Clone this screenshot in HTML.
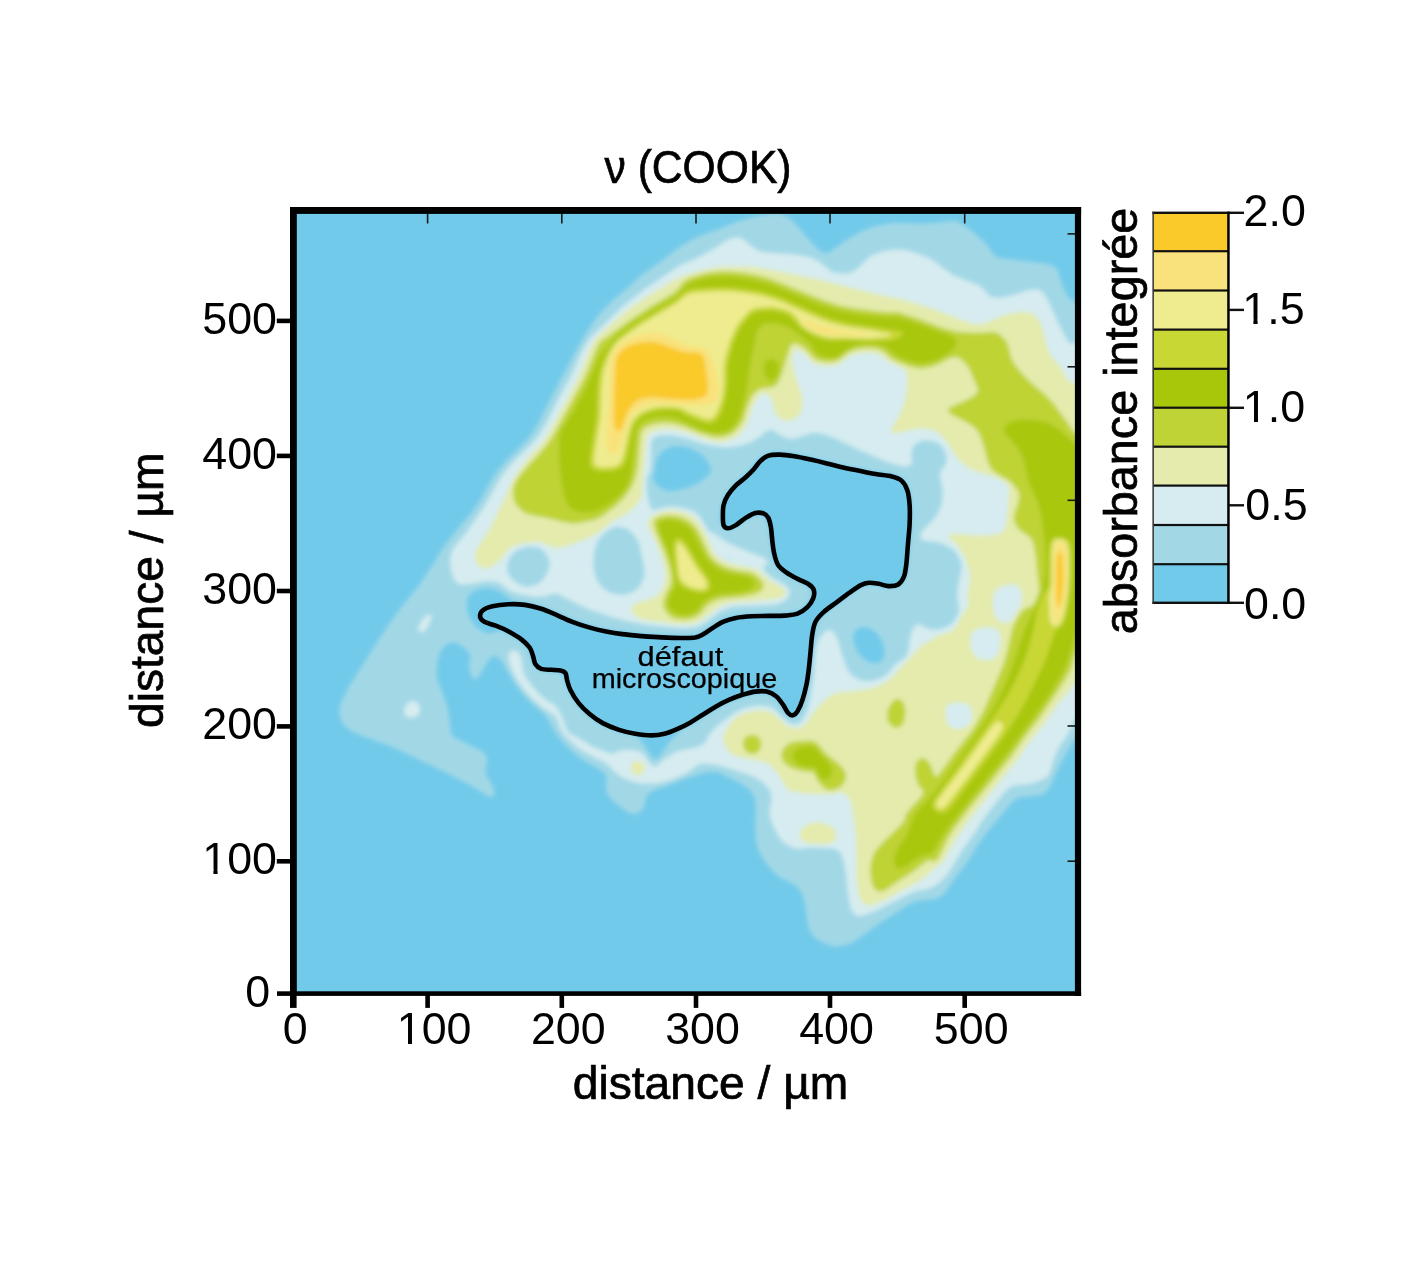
<!DOCTYPE html>
<html lang="fr"><head><meta charset="utf-8"><title>ν (COOK)</title>
<style>html,body{margin:0;padding:0;background:#fff}body{width:1417px;height:1276px;overflow:hidden}svg{display:block}.n{font-family:"Liberation Sans", Arial, Helvetica, sans-serif;font-size:44.8px;fill:#000}.l{font-family:"Liberation Sans", Arial, Helvetica, sans-serif;font-size:46px;fill:#000;stroke:#000;stroke-width:0.7px}</style></head><body>
<svg width="1417" height="1276" viewBox="0 0 1417 1276">
<rect width="1417" height="1276" fill="#fff"/>
<defs><clipPath id="pc"><rect x="293.3" y="210.4" width="784.6" height="783.3"/></clipPath>
<filter id="bl" x="-5%" y="-5%" width="110%" height="110%"><feGaussianBlur stdDeviation="2.2"/></filter>
<filter id="bl2" x="-5%" y="-5%" width="110%" height="110%"><feGaussianBlur stdDeviation="1.2"/></filter></defs>
<rect x="293.3" y="210.4" width="784.6" height="783.3" fill="#72CAEA"/>
<g clip-path="url(#pc)">
<g filter="url(#bl)">
<path fill-rule="evenodd" fill="#A2D8E6" d="M837.5 946.5L834.5 946.4L831 945.7L820.5 941.3L816.6 939L813 935.5L810.3 931.5L808.4 926.5L807.2 921L805.7 909L804.1 900L802.5 895.5L799.9 890.5L797.1 887L794 884.4L781 878.1L774.5 873.1L768.1 866L760.5 854.4L757.6 848L755.9 840.5L755.3 828L755.7 806L755.1 800.5L754 796.7L752.4 793.5L750.4 791L746.5 787.4L740 783.1L718.5 772.6L712.5 771.8L704.5 772.7L693.4 776L651.5 791.5L649 793.2L647 795.7L645.9 798.5L644.3 806L643 808.5L640.8 811L638 813L635 814.1L632 813.9L628.5 812.4L623.5 809.3L614 801.7L610.5 798.2L608.1 795L606.7 792L606.2 789.5L606.4 777.5L605.6 775L604.3 773L598.9 769L586 761.9L582 759.2L572 751.2L562 741.3L556.4 734L545.9 716L543.1 713L529.5 701.5L521.6 693L513.7 682L502 661.7L499.5 658.6L497 656.8L493.5 656.3L491.5 657L490 658.2L484 667.3L478.5 676.9L476.5 678.7L474.5 679L473 678.2L471.7 676.5L469.3 670L469 665.5L470.5 657L470 654.6L469 652.7L464.5 648.1L458 643.8L454.5 642.6L450.5 642.8L447.5 644.1L444.5 646.3L442.1 649L440.3 652L437.6 660.5L436.5 671.5L436.7 675.5L437.6 680L442.7 693L447.9 709L449.7 720.5L450.7 731L451.7 734.5L453 736.4L455 737.9L480.8 750.5L483.8 752.5L485.6 754.5L486.7 757L487.1 760L485.6 770L485.7 773.5L487 776.8L491.6 784L494.2 791.5L494 795L493 796.4L492 796.9L490 796.9L487.5 795.9L471.5 785.9L450 774.4L397 749.2L388.5 745.5L358 734.2L353 731.9L347 728.1L343.1 724L340.7 719.5L339.5 714L339.6 708.5L341 702.5L348.7 687L379.7 638L389.4 623.5L401.1 607.5L419.3 585L434 562.7L443.9 546.5L455.2 532L474.3 509L480.2 500L491.2 480L497.3 471L506.9 460L528 438.8L533 431.8L538 423.5L551.9 396L581.8 340L594.9 320L600.6 312.5L610 303L628.5 287.1L639.3 277L652 267.4L661.5 260.9L678.5 247.9L686.5 242.8L693 239.3L702 235.3L721 228.2L736 221.9L752.5 217.1L773 213.6L777 213.6L782 214.4L785 215.5L788 217.3L795.4 224L815 246.2L821.5 251.7L825.5 253.1L827.5 252.9L830 251.8L845.5 240.8L857 233.8L868.5 228.3L877 225.4L894 222.8L923 223.7L939 222.6L950.5 221L954 221.1L957.5 221.8L961 223.4L965.5 226.2L976.8 235L987 245.1L989.7 248.5L993.1 254L996.5 256.8L1002.5 258.4L1043 263.3L1050.7 265L1054.5 266.8L1056.5 268.7L1057.9 271L1062 284L1065.7 292.5L1069.4 298L1073.5 301.7L1075.5 302.3L1077.6 301.5L1079.1 299.5L1084.2 289.5L1086.5 287.9L1088.4 288.5L1090.1 291L1091.1 295L1093.3 316.5L1093.6 328L1095.5 347.4L1095.6 358L1095.9 544.5L1095.5 706.1L1092.7 725L1091.2 740.5L1089.5 747.3L1088 749.5L1087 750L1085.5 749.9L1083.5 748.2L1078.5 740.1L1076.5 739.2L1074.5 740L1072.5 742.5L1058.5 767.9L1049.8 787L1046.5 791.5L1043.5 793.7L1040.5 794.9L1019 797.6L1016 798.7L1013 801L985.7 834L977.2 846L972.9 853.5L966.5 863L954.5 879L945.5 892.1L942.3 895.5L939 897.5L934.5 899L928.5 900.1L917.5 901.1L911 903.2L880.7 922.5L854.6 941.5L848 944.4ZM673.8 491L685.5 488.2L695 484.7L702 480.7L709.5 474L711.1 470.5L710.3 466.5L706 459.1L702 454.8L696 451L690.5 448.5L684 446.6L677.5 445.9L672 446.6L667 448.4L663 451L659.1 455L657.1 458.5L655.9 462L654.5 471L653 477L653.4 480L657 485.1L662.5 489.3L668 491.2ZM655.8 759L657.5 758.4L659.5 756.5L670.7 740.5L681.5 729.5L696.5 721L717.5 707.6L727.3 702.5L741 697.1L749.5 694.6L755 693.6L762.5 693.3L767.5 694.1L772 696.1L776 699.4L779.7 704L785.5 712.9L788.5 715.6L791 716.6L793.2 716.5L795.6 715.5L797.9 713.5L800.2 710L803 703.4L807 689.7L809 679.3L811.9 650L815.1 629L816.6 624L820.1 618.5L828.5 610.3L853 592.4L862 586.6L866.5 585.2L871 584.9L876.5 585.6L887.5 587.9L894 587.7L897.5 586.6L900.7 584.5L903 582L905.2 578L907 572.5L908.5 561.5L911.6 524L911.7 507L910.9 497.5L909.1 490L906.4 483.5L902.6 479L898.5 476.3L892.5 474.1L874 471.6L843 465.4L806 456.1L788 452.8L781.5 452.3L774 452.3L770.5 452.7L766.5 453.9L761 457.2L756.5 461.6L748 471.7L735.5 482.7L729.5 488.7L723.5 498L721 506L720.3 512.5L720.4 520L721.3 524.5L722.9 527.5L726 529.5L730 529.5L736.5 526.6L747.5 519L753.5 515.8L759 514.9L761.5 515.3L763.9 516.5L766.1 519L767.5 523L768.9 529.5L771.4 552L773.8 560.5L776.3 566L779.5 569.8L784.5 573.7L792.5 578.6L806.5 585.5L809 587.4L810.6 589.5L811.4 592L811.3 595L810.2 598.5L808.3 602L805.8 605L801.9 608.5L798.5 610.5L795 611.8L783.5 613.2L750.5 613.9L735 615.6L726 618.1L720.5 620.3L702.5 631.8L698.5 633.8L694.5 634.9L682.5 635.7L654 634.7L621.5 631.8L606 629.4L589.5 625.2L574.5 620.6L558 613.1L542.5 606.8L527.8 603L513 601.1L501.5 592.4L497 590.2L492 588.7L486 587.9L479.5 589L474 591.1L469.5 594.5L467.8 597L466.9 600.5L466.8 607L467.4 611.5L468.6 615.5L470.6 619.5L474 624.3L477 627.5L483 631.7L488 633.4L492 633.1L498.5 630.5L502 630.8L509.1 634L519 640.4L524 644.5L527.3 648.5L529.5 653L532.8 663.5L534.5 666.2L536.8 668.5L539.3 670L542 670.9L558.5 672.4L561 673.2L562.5 674.4L563.9 677L566.3 686L570.9 695.5L576.5 704L585 713L594.5 720.5L604.5 726.1L619 731.8L634.5 735.6L637.5 736.9L640.5 740L652 757L654 758.7ZM877.8 663L880.5 661.7L882.4 660L883.9 657.5L884.5 655L884.5 651L883.8 646.5L882.6 642.5L880.6 638.5L876.1 632.5L870.5 628.8L867 627.6L864 627.2L861 627.6L858 628.7L856 630.2L854.5 632L853.4 634.5L853.1 637L854.3 644.5L857.7 652L861.5 657L868 661.5L873 663.3Z"/>
<path fill-rule="evenodd" fill="#D6ECF0" d="M861 916L857.5 915.8L854.5 914.2L852.3 911.5L850.5 907.5L847.9 893.5L846 874L843.9 862L842.3 856.5L840.2 852.5L836.5 849.5L831 848.2L808 847.6L799 848.9L795.5 848.7L789 846.1L783.8 842.5L780.6 839L777.9 835L772.2 823.5L770 817.5L769.5 811.5L771.6 798.5L770.6 792.5L769.1 789.5L767 786.5L761 780.9L757 778.4L751.5 775.8L730 768.4L716 764.8L707.5 763.8L701 763.8L698 764.4L690.5 770.5L684.5 774.1L672 779.5L660 782.8L650 783.7L640 783.4L634 781.9L622.5 777.5L616.5 773.5L610 766.8L605.5 763L602 760.8L591 755.8L582.5 750.6L575.7 745.5L567.3 738L563.5 733.1L560.6 728.5L559 724.9L557.2 719L555.7 716.5L553 714.2L543.1 708L533 699.5L525 690.9L518.5 682L512.5 671.4L510.5 666.8L508.6 660L508.5 654.5L510 651.5L513 650.2L516.3 651L519.2 653.5L521.4 658L522.9 671L526.2 678L531.9 686L540 695L545.8 700L554 704.8L556.8 707.5L559 711L562.5 718.5L566.9 730.5L569.5 733.8L578.5 738.2L593 747.1L610 753.6L613 753.6L620 750.8L625 749.9L632 750L639.5 751.4L643.4 754L650.1 763.5L652 765.3L654 766.2L655.5 766.2L657.5 765.3L665 758.4L676 751.9L682.5 749.9L696 747.5L702 745.2L705 742.4L708.8 735.5L711.4 732L715.5 727.6L721.5 722.4L735 712.7L740.5 709.8L746.5 707.6L752 706.3L759 705.6L764.5 705.9L769.5 706.8L774.5 709.6L782.6 717.5L789.5 723.1L794 724.6L796.5 724.3L798.5 723.6L801.6 721L805 715.4L807.2 710.5L809.2 703.5L813.3 680.5L815.3 654L817.1 644L820 637.4L822.8 634L826 631.2L828.5 630L831 630.2L833.5 631.9L835.4 634.5L837.7 640L841.7 654L845.9 666L848.3 671L851 674.5L855 677.7L861 680.3L865.5 681.1L872 681L879 679.1L885 675.9L888.3 673L895 664.5L903.1 659L906 656.2L907.6 653.5L908.5 650.5L909.7 640L911 634L913.5 628L916 625.1L918 624.3L920 624.4L927.5 628.4L931 629.4L936 629.7L940.5 629.1L946.6 627L951 624.4L954 621.2L957.6 615.5L958.7 612.5L959.1 609.5L957.4 597.5L957.4 589.5L961.9 567L961.5 563L960 559L955.5 551.8L953 549.5L949.5 547.3L943 544L938.5 542.4L934 541.5L926.5 541L923.5 540.3L921.5 539L920.3 536.5L920.9 533.5L922.7 530.5L934 518.7L936.4 515.5L940 508.5L941.7 503L942.6 497L942.7 490.5L942.1 486L940.2 477.5L940.1 474L941.2 470.5L945.6 464.5L946.4 461.5L946.6 458.5L946.1 454.5L944.7 450.5L942.9 447.5L940 444.5L935.5 441.8L928.5 440.4L922.5 440.6L917.5 442.5L914 445.6L911.9 449.5L911.4 453.5L912 461L911.2 464L909 466L905.5 466.6L896 464.8L885 461L856 448.4L836.5 438.9L825 434.4L818.5 433L814 432.8L810.5 433.2L797.5 437.8L791 438.9L784.5 437.1L779 434.4L773 430.3L769.5 429.7L766.5 430.9L758 438L750 442.7L740 445.4L732 446.9L728 447.3L720.5 447L709 445.2L682.5 437.4L673.5 435.4L667 435L661 435.4L657 436.1L653.9 437.5L651.9 440L651.1 443.5L650.8 469L650 471.7L647.1 476L646.6 480L646.6 488L647.3 495L649.7 505.5L651.5 509L653 510L655 510.1L665.5 506.9L673 506.4L684.5 508.2L690.5 510.1L694.5 511.9L697.5 514.2L700.4 517.5L707.4 529.5L709.5 531.6L714.5 533.9L722.5 539.5L729 543.2L742.5 549.5L761 556.7L765.9 559.5L767.4 561.5L767.5 563.5L766.5 565.1L762.7 567.5L763.8 570L768 574.5L771 577.1L785.5 585.2L787.8 587.5L789.3 590.5L789.4 594L787.9 597.5L785 600.5L780.5 603L776.5 604.2L772.5 604.8L762.5 605.5L738.5 605.9L729.5 607.5L720 611.5L704 623.4L699.5 625.7L695.5 627.1L685 628.3L673.5 627.7L646.5 624.8L630 621.7L614.5 617.7L592 610.4L575 603L558 593.9L553 593.7L544.5 596.2L538.5 597.1L534 596.8L523.9 595L517 593.5L511.5 591.6L507.8 589.5L500.5 583.8L497.5 582.3L494 581.4L486 581L470 584.1L464 584.6L460.5 584.3L457.4 583L454.9 580.5L452.3 575L450.9 570L450.1 563L450.3 558.5L451.6 552.5L453.9 547.5L464 535.4L476.9 517.5L485.2 505L500.5 478.1L505.4 471L515 460.1L531.6 444L539.6 434.5L546.3 423L561.4 393.5L570.8 376.5L579.7 356.5L585.2 345.5L589.7 338.5L623 306.2L646 288.3L680 265.6L694 259.6L704.5 254.3L719 245.8L727.5 239.9L735 237.4L738 237.2L741 238.1L754.5 248.6L757.5 250.4L760.5 251.5L767 252.6L794.5 254.6L806 256.5L812 258.1L817.9 261L831 271.1L834 272.5L837 273.3L846.5 273.5L850 272.9L853 271.7L858 268.2L868.5 257.7L872 255.5L878 253L883 251.5L893 249.8L902 249.4L915.5 252.8L931 259.1L934.8 261.5L943 268.2L953 274.9L957.5 277.1L973 283L980.5 286.6L983.5 289L988.9 295.5L993 297.6L997 298.1L1001.5 297.8L1013.5 294.9L1028.5 290.3L1034.5 289.5L1038.5 289.8L1041 291L1042.7 292.5L1047.5 299.5L1057.5 321.5L1065.9 338L1068.5 341.9L1070.5 343.4L1073 343.7L1075 342.9L1080.7 338.5L1082.5 337.8L1084.5 337.8L1086.5 338.9L1087.8 340.5L1090 347L1091.9 365L1092.7 383.5L1094.5 398.1L1095.5 401.1L1095.7 608.5L1095.5 647.7L1094.3 652L1093.1 664.5L1090.5 709.5L1088.7 718.5L1087.5 720.5L1085.5 721.6L1083.5 721.3L1078 718.3L1076.5 718.6L1074.8 720L1069 732.4L1061 744L1056.8 751L1053.5 759.5L1050.1 772L1048.6 775L1047 777L1041.5 780.1L1033.5 783.1L1026.5 784.5L1017 785.1L1012.5 786.1L1008.5 788.3L1005 791.5L993.1 806L982.9 819.5L976.2 830.5L960.9 852L949.7 871L944.5 877.5L940 882.1L936 885.1L931.5 887.6L926.5 889.3L916.5 891.1L912.5 892.4L876 910.6L865.5 915ZM625.4 594.5L630 593.2L634.5 591.1L637.5 588.8L640 585.8L642.5 581.5L644.1 577L644.6 573L644.4 568L640 546.6L638.2 541.5L636 537.5L631.5 532.2L627.5 529.2L622 526.9L616.5 526.5L612.5 527.7L607.8 530.5L601.2 536L598.2 540L595.5 546.5L594 553.5L593.3 560.5L593.6 568.5L594.9 574.5L597.2 580.5L600 584.7L604.5 589.4L609 592.2L613.5 593.8L620.5 594.9ZM530.9 586.5L538.5 583.8L543 580.1L547.7 572.5L549 568.5L549.6 565L549.3 561.5L548.4 558.5L546.5 554.7L544.1 551.5L541.5 549.2L539 547.7L532.5 546.4L528 546.6L523.5 547.5L518.3 549.5L514.5 551.9L511.9 554.5L509.5 558.1L507.6 562.5L506.9 566.5L507.1 570.5L508.2 574L510.5 577.5L513.6 580.5L518 583.7L523 586L527 586.9ZM731.9 558.5L728.4 556.5L725.6 556L728.9 558ZM423 632.1L421 632.3L419 630.8L418.4 628L419.1 625L421.8 620.5L425.5 616.3L428 614.6L430.4 614.5L431.6 616.5L430.6 620.5L426.5 628.5L424.5 631ZM413 717.6L409.5 717.7L406.5 716.6L404.7 714.5L403.9 711.5L404.8 708L407.1 704L409.5 701.8L412.5 700.9L415.5 701.6L418 703.5L419.4 706L420.1 709.5L419.7 712.5L418.5 714.6L416 716.5Z"/>
<path fill-rule="evenodd" fill="#E4EBAC" d="M870.5 905.5L866 905.3L862.5 903L860 898.8L858.1 892L856.3 878L856.2 844L854.6 823.5L851.1 803.5L849.6 799L847.7 796L844.5 793.7L841 792.7L829.5 794.3L809.5 794.2L792.5 791.5L790 790.7L788 789.5L785.8 787L778.9 775.5L774.5 769.4L769.5 764.8L766 763L761.5 761.6L737.5 756.8L733.5 755.2L730.8 753.5L728 750.4L725 745L723.5 741L723 737L724 733.5L730.2 723.5L733 720L737.9 716L744.5 713L750.3 711.5L756.5 710.6L763.5 710.6L768.5 711.3L773.8 714L784 723.3L788.5 726.7L793 728.3L798 728.2L802 726.8L805.2 724.5L807.7 721.5L813.6 712L817.5 706.9L826 699L832 694.8L839.5 692.1L859.5 690.5L871 688.3L876.5 686.7L882.5 684.1L889 679.8L894 675.5L901.4 666.5L909.2 659L915.5 651.5L922 645.5L935.5 637L941.5 634.5L950.5 631.6L953.5 629.7L955.7 627L963.5 612.7L968.4 605.5L968.9 603L967.3 599L967 597L970.1 581L970 575.5L968.8 569.5L964.7 557.5L960.8 550L957 544.9L949.2 538.5L948.5 537L948.6 536L950.5 534.3L955.5 533.8L961 534L974 535.6L986 535.6L997 534.2L1002 532L1004.8 528.5L1006.3 523L1008.1 505.5L1009 490L1008.7 486.5L1007.7 484.5L1006.2 483L995.9 477.5L991 475.7L977.5 472.1L971 469.3L966.5 466.4L960.6 461.5L955.5 455.9L948.3 444L944 438.4L939.4 434L934 430.7L928.5 429.1L919.5 428.4L912 429.5L898.5 433L893.5 433.1L891.3 432L890.8 430.5L891.2 429L897.8 418.5L903.6 405L905.2 399.5L907 386.5L907.2 377.5L906.5 372.5L904.5 369.6L901.9 368L890 362.8L880.5 355.3L873.5 352.9L863 352.7L855.5 354L849 356.6L841 362.8L837.5 364.7L832.5 365.9L825.5 366L819 365.3L814 363.5L811 361.3L806 355.6L802 352.2L798 350.1L796.5 349.9L795 350.3L793.5 351.9L792.5 355.2L792.1 359.5L792.5 364.5L795.2 376L801.1 392.5L802 397L802.4 403L802.1 407.5L801 411.5L798.7 415.5L796 418.2L792 420L787 420.8L783 420.1L779.5 418.2L777 415.8L775.1 412.5L771.6 400L770.4 397.5L767.5 394.6L765.5 393.9L763.5 393.8L761.2 394.5L759 396L755.5 400.8L751 410.5L747.9 422L743.5 429.5L740 433.4L736.5 436.4L733 438.5L728.5 440.4L721 442L713.5 441.4L704 438.7L686 432.1L671.5 429L662 429.1L652 431.8L649.5 433.4L648 435L647 437L646.2 440L644.4 464L643 476L642.4 492L641.7 496L639.6 500.5L636 505.5L632.5 509.1L627 513.6L623.5 515.8L611 521.9L601.5 530.4L594.5 535.1L585 539.4L570.5 545L561 547.4L557 547.9L551.5 547L542.5 542.9L538.5 542.1L529.5 542.4L518 544.8L513.5 546.3L510 548.3L506.7 551.5L501 559L497.3 562.5L492 566.5L487 568.3L483 568.1L479.5 566.5L477.1 564L475.5 560.5L474.9 554.5L476 549.8L488.6 531L504.5 498.6L512.9 479L521.6 466L543 440.9L548 433.7L554.5 422.5L577.5 379L582.5 368.1L588.5 351.5L592 344.5L595.3 339.5L599 335.3L615.5 320.2L625.1 312L635 304.5L648.5 295.5L674 279.9L681.5 276.4L692.5 272.7L708 268.9L716.5 267.5L727 266.6L750.5 266.8L767.5 269.2L818.5 279.5L876 294.1L902.5 299.6L925 306.2L942.5 312.4L969 322.7L974 324L980.5 324L988 322.1L1002 316L1011 313.4L1022.5 311.8L1026 311.9L1029.5 312.7L1035.3 315.5L1037.5 317.7L1039.4 320.5L1041.8 326.5L1046.8 346L1049.4 353L1052 357L1059.9 366L1064.8 375L1067.7 379.5L1070 381.8L1072.5 382.9L1080.5 382.1L1084.5 382.9L1087.2 385.5L1089.5 391L1091.6 405.5L1093.1 430.5L1095.5 439.1L1095.5 613L1095.5 619.6L1094.5 624.3L1092.4 644L1089.5 664.3L1087.5 671.9L1086 674.5L1084 676.7L1076 681.5L1073 684.5L1068.5 690.9L1057.6 704.5L1045.1 722.5L1028 743.8L1018.2 758.5L976 811.3L965.6 825L957.2 837L944.2 859.5L941.7 863L934.5 868.5L923 878.4L918.7 881.5L886.5 899.1L875.5 904.1ZM689 624L682.5 624.3L674 623.7L644.5 620L639.5 618.4L635.5 616.2L632.7 613.5L631.4 610.5L631.4 608.5L632.1 606.5L635.1 603.5L639.5 601.8L650 599.4L657.3 595.5L660.9 591.5L663.7 585.5L664.9 580.5L665.4 575L664.9 570L663.5 563L660.5 553.4L656.5 543L648.3 527.5L647.4 524L648.5 520L652 516L658 513L664.5 511L671.5 510.2L678.5 510.9L685.5 512.6L691.4 515.5L696.5 519.8L700.1 524.5L707.8 538L713.1 551.5L715 554.1L718 557L723.5 560.6L730 563.3L741 566.2L752.2 568L756.6 569.5L760.5 572.1L769.5 580.3L782.5 587.5L784.7 589.5L785.6 591.5L785.5 593.6L784 595.9L781.5 597.4L777.5 598.7L756 601.1L736.5 602.1L729 603.2L724 604.6L720.5 606.1L717 608.3L700.5 620.8L695.3 623ZM1006.7 622.5L1010 621.5L1012.5 619.3L1016.4 612.5L1020.1 607L1021.7 603L1022 597L1020.6 589.5L1018.5 586.5L1014.5 584.7L1011 584.4L1006.5 584.9L999.5 587.3L997 589L995.3 591L993.2 596.5L992.6 601.5L993 607.5L994 612.8L995.6 617L997.5 619.7L1000 621.6L1003 622.5ZM989.6 660L992.5 659.2L995.2 657.5L997.5 655L998.7 652.5L999.8 648L1000.6 640.5L1000.5 636.5L999.6 633L997 629.4L995 628.2L992.5 627.5L985 627.2L977.5 628.7L973 631.5L971.6 633.5L970.7 636L970.2 643L971.7 650.5L974.5 655.5L977.5 658.2L983.5 660ZM959 729L962.5 728.2L966 726.8L968.5 725L970.2 723L971.5 720.1L972.1 717L972.1 713L971.6 709.5L969.5 705.8L966 703.7L958.5 702.4L951.5 703.3L947.5 705.5L945.8 708.5L945.5 713.5L946.8 721.5L948.4 725L951 727.5L954.5 728.8ZM639.5 775L637 775.1L634.5 774.2L632.5 772.5L631.2 770L630.7 767.5L631.1 765L632.5 763L635 761.5L638 761.1L641 761.8L643.1 763.5L644.6 766L645 769L644.1 771.5L642 773.8ZM827.5 844.1L814 844.1L809 843.4L804.9 842L801.8 840L800 837.5L799.4 834.5L800.1 831.5L802 828.7L805 826.3L809 824.2L813.5 822.7L817 822.3L820.5 822.6L828.5 825.1L832 827.1L834.4 829.5L835.9 832.5L836.4 836L835.7 839L833.9 841.5L831.5 843Z"/>
<path fill-rule="evenodd" fill="#BFD336" d="M882 891.5L879 891.7L876 890.3L873.8 887.5L872 883.5L871 878.5L870.3 870L870.7 865L872 858.5L873.9 853.5L877.2 848.5L882.3 843L902.6 823L904.3 820.5L905.4 815.5L906.9 812.5L920 798L923 794L923.5 792.5L923.3 791L918.2 785L916 778.5L915.4 774L915.3 768L915.6 764.5L916.5 762L918.5 759.7L921 758.4L923.5 758.3L926 759.4L928.5 761.8L930.9 765.5L934.4 775.5L935.5 776.3L937 775.9L940 772.9L952.2 756L972 730.7L977.3 722.5L983.6 711L1003.2 665L1006.5 654L1012.3 629L1013.9 624.5L1019 614.9L1022 611L1024.5 609L1030.5 606.5L1033.5 604.2L1035 601.8L1038 594.5L1038.9 590.5L1038.9 586.5L1037 571.5L1035.9 557.5L1033.4 543.5L1031.7 539.5L1029.5 536.7L1021 531.2L1017.7 528L1015.3 524L1013.9 519.5L1014.1 514.5L1016.7 507.5L1019 499L1019.3 496L1018.8 493L1016.5 488.7L1010 481.2L995.6 473L993.1 471L990.8 468L987.3 461L984.5 448.5L980.9 437.5L978.8 433L976.4 429.5L973.5 426.7L968.5 423.2L952.3 415L949.5 413.1L948.3 411.5L948.2 409.5L950 407.5L964.5 401.1L971 397.7L975.7 394.5L977.7 391.5L977.9 389.5L977.4 387.5L969.3 369L965.5 363.5L960.5 358.8L957 357.2L952.5 357.2L948.5 358.7L939.5 363.8L932.5 366.4L924.5 368.2L917 368.3L909 366.3L894.5 360.5L890 357.6L884 351.9L880 349.7L874 348.3L866 348.1L858 348.9L852 350.8L847.5 353.3L840 359.2L836.5 361L831.5 361.9L824.5 361.7L819 360.7L815 359.1L812.5 357.1L808 351.5L804.5 348.2L798.5 344.5L794.5 343.4L791.8 344.5L789.9 347.5L781.6 375L777.9 383L776 385.2L773.5 386.8L771 387.4L761.5 388.6L757.5 390.4L754.5 393L751.6 397L748.5 403.5L746.5 409L744.1 418L742.3 422L737.3 429L731.5 433.7L727 435.7L722.5 436.9L718 437.2L713 436.7L699.5 432.9L684 426.4L675.5 424L668 422.9L661 422.9L654.5 424L648 426.1L644 428.5L642 431L640.6 435L637.8 467.5L634.8 479L632.6 485L627.8 493L622.5 499.5L614.5 507.1L602.5 516L597 518.9L592 520.5L579.5 522.9L571.5 523.4L563 522.1L548.5 518.3L530.5 514.9L526 513.2L521.5 510.5L518.5 507.8L516.3 505L514.6 501.5L513.4 497.5L513 493.5L513.2 489.5L514 486L515.5 482.1L519 476.5L525.5 468.5L540.3 452.5L547.4 444L553.4 435L582.7 381L588.9 367.5L595.5 350.5L599.5 342.4L601.5 340.4L607 336.9L629.5 320.2L653 305.1L674.2 292.5L677.5 289.5L682.5 282.8L685.2 280.5L689.8 278L695.5 276L709.5 272.6L725 271.2L742 272.4L755.5 274.7L770.5 278.8L821.5 299.6L838 305L848.5 307.2L874.5 311L886 312L895.5 312.1L899.5 312.6L918 318.4L941 327.4L957.5 331.7L973 332.8L982 332.7L992 331.8L996.5 332.7L1001 335.6L1006.9 342L1008.1 345L1010.1 354L1011.6 358.5L1014 363.3L1018 368.7L1022.3 374L1029.3 381L1045.4 395L1054.2 404.5L1066 420.5L1073 430.9L1075 432.6L1077.5 433.4L1084 431.8L1086.5 431.9L1088.8 433.5L1090.2 436.5L1094.1 462.5L1094.6 464.5L1095.5 465.9L1095.5 597.3L1091.8 624L1090 640.9L1088.5 646.3L1087 648.5L1085.5 649.6L1078.5 651.1L1076.2 653L1074.5 656.9L1071.3 668L1069.4 672.5L1064.6 680.5L1050.8 701.5L1039.9 717.5L1027 734L1010.1 758L968.5 809.6L954.1 828.5L947.7 838.5L940 855L937.1 860L934.5 861.4L930 860.3L926.5 861.3L912.7 872L897 882L887 889.2ZM687 619.5L679 619.5L675 618.7L672 617.4L669.2 615.5L666.8 613L664.8 610L663.6 607L663.2 603.5L664 599L666.1 593.5L670.6 585L671.3 579.5L670.2 570.5L668.4 563.5L664.7 553L655.3 530.5L653.6 524.5L653.7 521.5L655 519.3L657.5 517.4L661.5 516L668 515.2L675.5 515.7L683 517.8L688 520.4L693.5 524.7L697 529L701.6 537.5L708.5 553L711.7 557.5L715.5 561.3L721.9 565.5L729.5 568.5L736.5 570.3L748.5 571.8L753 573.3L756.5 575.5L759.7 578.5L762.2 581.5L763.6 584.5L763.6 587.5L762 589.9L758.5 592.4L754.5 594L744 596.5L721.5 598.8L713.1 601.5L706.5 606L701.2 613L698.5 615.5L693 618.2ZM898.5 727.5L896.5 727.9L894.5 727.6L891 725.5L888 720.9L886.8 715.5L888 709.5L891 703.4L894 700.2L896 699.3L898 699L901 699.9L903 702L904.7 706.5L905.5 712L904.7 718L903.2 723L901.1 726ZM755.5 753.6L752 753.9L748.5 753.1L746 751.4L744.1 748.5L743.1 744.5L743.5 740.5L745.2 737.5L748 735.7L752 734.8L755.5 735.3L758.5 737.2L760.5 740.1L761.3 744L760.5 748L758.5 751.6ZM833.5 790.1L830.5 790.4L828 790.1L825.5 789.1L823.5 787.7L817.8 781L814.4 774L813 772.4L811.5 771.9L805 771.5L797 769.8L790.5 767.6L786.4 765L782.7 760.5L781.2 756L781.8 751.5L784.5 747.2L787 744.9L790.5 742.9L793.5 741.8L797.5 741.2L811 740.4L814.5 741.3L817.5 743.4L825.7 753.5L836.5 761.9L841 766L843.7 769.5L845.5 773L846.1 775.5L845.9 778L845 781L843.3 784L839.5 787.7Z"/>
<path fill-rule="evenodd" fill="#A9C70A" d="M589.5 512.5L581 512.5L574 510.4L571.5 508.8L569 506.5L567.3 504L565.8 500.5L563.4 491.5L561.4 481L558.9 457.5L558.9 440L559.6 435L561 430.7L574.6 409L586.2 387L592.3 374L599.4 356L613.4 339L620 332.6L631.5 323.9L641.5 317.3L675.3 297L678.1 294.5L685 286.4L691 282.5L696.1 280.5L705 278L716 276.5L732.5 276.6L754.5 279.9L769.9 284L823.5 305.9L837 310.1L859 314.5L882.5 317.3L896.5 317L905.2 319L950.8 335.5L954.3 337.5L956.2 340L956.7 343L955.5 346.5L953 349.6L948.2 353.5L942 357.6L937.2 360L932.5 361.5L924.5 363.1L920.5 363.4L916.5 363.1L906 360.3L900.8 358L894.5 354.2L887 347.8L884.5 346.2L880 344.7L872.5 343.9L863 344L855.5 345.4L848 349.1L837.5 356.9L834 358L829.5 358.1L823 356.9L817.1 354L815 351.8L812 346L809.5 343L798.4 334L790 328.3L782.5 325.1L776.5 323.6L768 323.3L763.2 324.5L760.8 326L759 328L756.5 333.6L751.4 357.5L747.2 386.5L744.4 400L741.5 410.6L739 417.7L736.5 422.4L733.5 426.3L729.9 429.5L726.1 431.5L720 433L715 433.3L710 432.5L701.5 430L683 421.2L676.5 418.8L670 417L663 416.7L656 417.1L649 418.9L643.5 421.3L640.5 423.5L638.7 425.5L636.2 431L631.1 473.5L629.4 480.5L627 485.7L620.5 494.4L609 504.6L604 507.6L599 509.9L594 511.7ZM771.5 380.5L768.5 379.8L766.2 377.5L764.4 373.5L763.8 369L764.1 365L765.2 362L768 359.5L771 358.6L774 359.3L776.5 361.5L778.4 365L779 368.5L778.4 373L776.5 377.4L774.5 379.5ZM900.5 868.6L898.5 868.7L897 868.1L895 865.5L894.2 861L894.9 855.5L898.1 847.5L907.3 834L913 817.5L916.6 812L928.5 799.5L946.5 776.4L980.5 728.6L992 710.4L999.5 696.2L1006.7 680.5L1013.5 663L1021.2 639L1024.9 629L1032.8 611.5L1037 604L1041.9 591.5L1043.3 586L1045.2 572.5L1045.6 556L1044.8 542.5L1040.8 513L1037.7 502L1029 483.5L1023.5 459.5L1021.7 454.5L1018.5 449L1006.5 435.1L1004.4 431.5L1003.9 429L1005 426L1007.5 423.8L1013 421L1018 419.6L1022.5 419.4L1037 420.4L1046.5 422.3L1052 425L1060 430.2L1072 441.1L1075 442.6L1082 444.7L1085 446.4L1088 450.1L1090 455.5L1094 483L1094.3 491.5L1095.5 494.1L1095.5 558L1094.2 560.5L1093.5 564L1091.1 608L1090.1 616.5L1089 621L1087.6 624L1086 626.2L1078.9 630.5L1076.2 634L1073.9 639.5L1069.2 657.5L1065.2 667.5L1056.5 683.5L1048.5 696.2L1035 715.5L1007.5 753.3L948.7 827L943.4 834.5L933.8 851L932 853L930 854.1L923 855.2L920.5 856.1L907.1 865.5ZM686 615L680.5 614.8L674.5 612.7L670.5 609.3L668.3 605L668.1 602L668.9 598.5L670.7 594L674.7 586.5L675.3 582.5L672.9 567L670.6 557.5L667.9 550L661.5 536.2L658.4 527.5L658.3 525L659.1 523L661.1 521.5L664.5 520.3L671 519.8L678 521.3L683.2 523.5L689 527.6L692 530.9L694.3 534.5L705.8 557L710.8 563L715.5 566.9L720.5 569.7L730 573.2L745.5 576L749.2 577L753 579.5L754.7 582.5L754.5 585L753.2 587L750.5 589.2L747 590.7L740 592.2L721 593.9L716 595.1L711.5 596.8L708 598.7L704 601.7L697.8 609.5L695.5 611.7L691.5 613.7ZM826.5 779.6L823.5 779.7L820.7 778L819 775.5L816.8 770L814.5 767.8L812.5 767.2L807.5 767.1L803.9 766.5L799.3 765L796 763L793.5 760L792.4 757L792.7 754L794.5 751L799 747.8L805.5 746.1L812 746.4L814.5 747.2L816.5 748.5L822.3 756L829.5 763.4L831.8 767.5L832.2 771L831.1 775L829.1 778Z"/>
<path fill-rule="evenodd" fill="#C9D734" d="M610 471L600.5 471.2L595 470.1L593 468.9L591.2 467L590.3 465L589.8 462L590.2 456L596.5 417.7L597.6 387.5L598.4 379L599.9 370.5L602.3 363L606.3 354.5L611.1 346.5L616 340.4L621 335.5L630.5 328L640.8 321L676 299.9L679 297.5L684 292.3L686.5 290.7L690.5 289.5L698 288.5L721.5 287.2L736 287.9L759.5 291.3L781.5 297.7L821.2 315.5L835.9 320.5L852.5 324.3L896.5 330.4L901.1 331.5L902.8 333L902.9 334L902 335.3L897.6 338L893.5 339.8L888 340.9L867.5 340.8L845.5 340L834 340.8L829.5 340.6L823 339.3L817 337.3L807 332.2L800.8 327.5L791.5 317.5L788 315L784 313.1L776.5 311.2L770 310.5L759 311L754 312.4L751.5 314.1L748 317.5L741 326.4L737 333.8L733 343.7L729 357.8L727.7 364.5L727.3 386L725.2 399L723.6 405.5L721.7 411L719.2 416L716.5 419.8L714 421.9L711.5 422.9L708 423.3L704.5 422.8L687.5 415.9L679.2 411L674.1 410L665 409.7L658 410.2L652.9 411.5L644.8 414.5L641.5 416.5L638 419.4L635.4 422.5L633.5 426L631.5 433.4L627.3 456L625.8 461L624.2 464.5L622.1 467L619.5 468.7L615 470.3ZM943.5 813L939 812.7L936.5 811.6L934.5 809.9L933.2 808L932.5 805.5L932.5 803.5L933.3 801L935.4 797.5L947.2 782L988.8 724L1006 697.9L1014.5 682.5L1021.5 667.4L1027.5 652.2L1032 635.4L1037.3 611L1040.5 601.4L1043.5 594.6L1048 588.5L1048.9 586.5L1049.2 582.5L1049.5 551.5L1050.7 542L1052.5 539L1055.5 537.3L1060 537.1L1065 538.1L1067 539.3L1068.5 541L1070.4 546L1071.2 553.5L1071.3 572.5L1070.6 587L1068.3 604L1066.2 615L1063.8 622L1061.4 626L1056.4 629.5L1055 631.4L1044.7 662L1026.8 699L1018.2 714.5L1000.7 740.5L951.2 807L947.5 811ZM704.5 592.6L698 592.6L688 589.8L682 586.2L680 584.2L678.6 582L677.3 578.5L676.1 573L673.6 552L673.8 542.5L674.8 540L676.5 538.4L678.5 538.1L680.5 538.6L684.5 542.1L689.6 549.5L699 565.8L706.3 575L708.2 578L710.2 583.5L710.3 587.5L708.5 590.7Z"/>
<path fill-rule="evenodd" fill="#EEEC8E" d="M609 467L601 467.1L597 466.2L595.5 465L594.6 463.5L594 459.5L595.6 447L600.6 417L601.6 388L603 375L604.7 367.5L610 353.5L612.3 349L615 345.1L619 340.8L623.5 337L642.6 323.5L677 302.9L680.5 300.3L685 296L687.5 294.5L691 293.5L697.9 292.5L712.5 291.4L722.5 291.3L731.5 291.6L741.2 292.5L757.5 295L767.7 297.5L780 301.5L817.5 318.2L831 323.2L847.5 327.1L871 330.2L880 332.2L888.6 333.5L890.9 334.5L890.7 335.5L888 336.6L879 337.2L869.5 338.6L845.5 337.4L832.5 337.6L827 336.9L817 334.1L806.5 328.9L801.4 324.5L797.4 318L795.5 315.9L790.5 311.8L786.5 309.8L777 307.3L770.5 306.6L758 307.3L752.5 308.7L750 310.3L747.5 312.6L737.8 324L734.4 330.5L729.3 342.5L725.8 355L723.6 365L723.4 386L722.1 396.5L720.5 402.5L718 409.3L716 413.4L713.8 416.5L712 418.1L710 419L705.5 418.8L689.6 412.5L681 408L674.5 406.7L664.5 406.5L657 406.9L651.5 408.3L643 411.4L639.5 413.5L636.2 416.5L633 420.3L630.9 424L628.2 433L623 456.5L621 461.6L619.5 463.6L617 465.2L613.5 466.4ZM1055.5 626L1053.5 625.9L1052 625.1L1050.3 621.5L1049.6 616L1048.9 596.5L1051.5 585.6L1051.7 555L1052.5 545L1053.2 542.5L1054.5 540.8L1056.5 539.8L1059 539.6L1062.5 540L1065 541.1L1066.7 543L1067.7 545.5L1068.7 553.5L1068.7 574.5L1067.8 590L1065.9 604L1063.9 614L1062 619.6L1060.1 623.5L1058 625.3ZM703.5 589.1L697.8 589L689.3 586.5L684.3 583.5L680.7 579.5L679.5 576.3L678.5 571.5L677.1 554L677.1 545.5L677.5 543.8L678.5 542.7L680.5 543.2L683 546L687 551.9L696.3 568L705 579.5L706.5 583.4L706.7 586L705.8 588ZM942 808.6L940 808.8L938.5 808.4L936.5 806.2L936.4 803L938.3 799.5L961.8 768.5L992.5 725.9L995 723.3L997 722.1L999 721.8L1001 722.5L1002.6 724.5L1002.8 727.5L1001.3 731L998.2 736L970.2 774L947.3 804L944.5 807.1Z"/>
<path fill-rule="evenodd" fill="#F9E27C" d="M869.5 335.1L867 335.4L846.5 334.5L833.5 334.5L825.5 333.5L818.1 331.5L810.2 328L805.4 324.5L804.2 323L803.8 321.5L804.5 320.8L806 321L816 324.7L827 327.6L846.5 331.4L868 333.5L870 334.3L870.2 334.5ZM613.5 454.6L611.5 454.5L610 453.7L607.9 451L606.8 446.5L606.3 437L609.1 390L609.5 367.5L610.7 360.5L612.4 355L614.5 350.5L617.5 346.4L624 341.1L631 337.7L644 334L650.5 333L655 332.9L659.5 333.5L664 334.8L672.3 338L685.5 344.6L690 345.9L700.5 347.8L704.5 349.5L707.5 351.5L710.6 355.5L714 363L717.8 380.5L718.8 388.5L718.7 393.5L717.8 398L716 401.1L714 402.8L711 404.2L702.5 405.6L689 405.7L675 403.7L659 403.3L648.5 404.7L641.5 407.3L635 412L630.3 418L627.4 424L618.6 450L616.5 453.1ZM1057 622.1L1055.5 621.5L1054.7 619.5L1053.2 604.5L1052.8 594L1053.5 586L1053.7 557L1055.3 544.5L1057 542.5L1059.5 542.2L1061.8 542.5L1063.5 543.3L1064.6 544.5L1065.5 547L1066.5 555L1066.6 574L1066 587.2L1063.5 605.8L1060 617.7L1058.5 620.8Z"/>
<path fill-rule="evenodd" fill="#FAC92A" d="M619 431.5L617.5 431.5L616.2 430.5L614.7 426L613.8 419L613.9 404L615.4 363.5L617 356.1L618.5 353.5L620.4 351.5L626.5 347L633 344.3L642.5 342.1L652.5 341.8L659 343L682 351.2L687 352.1L698 352.7L700.5 353.5L702.3 355L703.6 357L704.6 360L708.1 384L707.7 391.5L706.8 394L705.4 396L703.2 397.5L700.5 398.5L690.5 400L671 398.9L654.5 397.3L645.5 397.9L640 399.2L634.9 402.5L629.7 408.5L626 415.5L621.8 428L620.5 430.3ZM1059 607.1L1058 606.6L1057.2 604.5L1056.4 595.5L1056.2 567.5L1056.9 555.5L1058 552.9L1059.5 551.9L1060.5 552.1L1061.5 553L1062.5 555.8L1063.4 573.5L1063 585.5L1061.5 599.4L1060.5 604.8Z"/>
</g>
<path d="M480.1 616.9C479.9 615.0 480.7 612.2 482.7 610.4C484.8 608.6 488.1 607.2 492.5 606.2C496.8 605.2 503.3 604.5 508.7 604.3C514.1 604.0 519.5 604.2 524.9 604.9C530.3 605.7 535.7 607.1 541.2 608.8C546.6 610.5 552.0 613.0 557.4 615.3C562.8 617.6 568.2 620.4 573.6 622.4C579.0 624.5 584.4 626.1 589.9 627.6C595.3 629.2 600.7 630.4 606.1 631.5C611.5 632.6 616.4 633.4 622.3 634.1C628.3 634.9 635.3 635.5 641.8 636.1C648.3 636.6 654.8 637.1 661.3 637.4C667.8 637.7 675.1 638.0 680.7 638.0C686.4 638.0 691.6 638.0 695.4 637.4C699.1 636.7 700.5 635.8 703.5 634.1C706.4 632.5 710.0 629.7 713.2 627.6C716.5 625.6 719.2 623.4 722.9 621.8C726.7 620.2 731.1 618.8 735.9 617.9C740.8 617.0 746.8 616.6 752.2 616.3C757.6 615.9 763.0 616.1 768.4 615.9C773.8 615.8 779.8 616.0 784.6 615.6C789.5 615.2 793.8 615.1 797.6 613.7C801.4 612.3 804.8 609.7 807.4 607.2C810.0 604.6 812.1 601.3 813.2 598.4C814.3 595.6 814.5 592.3 813.8 590.0C813.1 587.7 811.7 586.3 809.0 584.5C806.3 582.6 801.4 580.9 797.6 578.9C793.8 576.9 789.5 574.8 786.3 572.4C783.0 570.1 780.1 568.1 778.1 565.0C776.1 561.8 775.2 557.7 774.2 553.6C773.3 549.6 772.8 545.0 772.3 540.6C771.8 536.3 771.6 531.4 771.0 527.6C770.3 523.9 769.6 520.3 768.4 517.9C767.2 515.5 765.7 514.2 763.5 513.4C761.4 512.6 758.4 512.3 755.4 513.0C752.4 513.8 748.9 515.9 745.7 517.9C742.4 519.9 738.9 523.3 735.9 525.1C733.0 526.8 729.9 528.3 727.8 528.3C725.8 528.3 724.4 527.1 723.6 525.1C722.8 523.1 722.9 519.6 722.9 516.3C722.9 512.9 722.8 508.4 723.6 504.9C724.4 501.4 725.8 498.4 727.8 495.2C729.9 491.9 733.0 488.4 735.9 485.4C738.9 482.5 742.7 480.0 745.7 477.3C748.6 474.6 751.4 471.9 753.8 469.2C756.2 466.5 757.8 463.4 760.3 461.1C762.7 458.8 765.2 456.7 768.4 455.6C771.6 454.5 775.4 454.5 779.8 454.6C784.1 454.7 789.2 455.4 794.4 456.2C799.5 457.0 805.2 458.3 810.6 459.5C816.0 460.7 821.4 462.0 826.8 463.4C832.2 464.7 837.7 466.3 843.1 467.6C848.5 468.8 853.9 469.8 859.3 470.8C864.7 471.9 870.1 473.2 875.5 474.1C880.9 475.0 887.4 475.3 891.8 476.4C896.1 477.4 898.9 478.3 901.5 480.6C904.1 482.9 906.0 486.3 907.3 490.3C908.7 494.4 909.2 499.2 909.6 504.9C910.0 510.6 909.9 517.9 909.6 524.4C909.3 530.9 908.5 537.4 908.0 543.9C907.4 550.4 907.0 557.9 906.4 563.4C905.7 568.8 905.4 572.8 904.1 576.3C902.7 579.9 900.8 582.8 898.2 584.5C895.7 586.1 891.8 586.2 888.5 586.1C885.3 586.0 882.0 584.4 878.8 583.8C875.5 583.3 872.0 582.6 869.0 582.8C866.1 583.1 864.2 583.5 860.9 585.1C857.7 586.7 853.6 589.7 849.6 592.6C845.5 595.4 840.9 599.1 836.6 602.3C832.2 605.6 827.1 608.8 823.6 612.1C820.1 615.3 817.4 618.0 815.5 621.8C813.6 625.6 813.0 629.9 812.2 634.8C811.4 639.6 811.1 645.6 810.6 651.0C810.1 656.4 809.6 661.8 809.0 667.2C808.3 672.7 807.8 678.1 806.7 683.5C805.6 688.9 804.0 695.1 802.5 699.7C801.0 704.3 799.2 708.5 797.6 711.1C796.0 713.7 794.4 715.0 792.7 715.3C791.1 715.6 789.5 714.5 787.9 712.7C786.3 710.9 784.9 707.3 783.0 704.6C781.1 701.9 779.2 698.6 776.5 696.5C773.8 694.3 770.3 692.4 766.8 691.6C763.3 690.8 759.5 691.0 755.4 691.6C751.4 692.1 746.8 693.5 742.4 694.8C738.1 696.2 733.8 697.8 729.4 699.7C725.1 701.6 720.8 703.8 716.5 706.2C712.1 708.6 707.8 711.6 703.5 714.3C699.1 717.0 694.8 720.0 690.5 722.4C686.2 724.9 681.8 727.0 677.5 728.9C673.2 730.8 668.8 732.7 664.5 733.8C660.2 734.9 656.4 735.4 651.5 735.4C646.7 735.4 640.7 734.7 635.3 733.8C629.9 732.9 624.5 731.7 619.1 729.9C613.7 728.1 607.7 725.7 602.8 723.1C598.0 720.5 593.9 717.7 589.9 714.3C585.8 711.0 581.7 707.0 578.5 702.9C575.2 698.9 572.3 693.8 570.4 690.0C568.5 686.2 567.9 683.0 567.1 680.2C566.3 677.4 566.6 674.7 565.5 673.1C564.4 671.5 563.1 671.0 560.6 670.5C558.2 669.9 554.1 670.1 550.9 669.8C547.6 669.6 543.8 669.8 541.2 668.9C538.6 667.9 536.7 666.2 535.3 664.0C534.0 661.8 534.0 658.6 533.0 655.9C532.1 653.2 531.7 650.5 529.8 647.8C527.9 645.1 525.2 642.4 521.7 639.6C518.2 636.9 513.0 633.9 508.7 631.5C504.4 629.2 499.8 627.3 495.7 625.7C491.7 624.1 486.9 623.3 484.3 621.8C481.8 620.3 480.4 618.8 480.1 616.9Z" fill="none" stroke="#000" stroke-width="4.6" stroke-linejoin="round"/>
<text x="680.4" y="666.2" text-anchor="middle" font-family="&quot;Liberation Sans&quot;, Arial, sans-serif" font-size="27" stroke="#000" stroke-width="0.25" textLength="85.6" lengthAdjust="spacingAndGlyphs">défaut</text>
<text x="684.5" y="687.5" text-anchor="middle" font-family="&quot;Liberation Sans&quot;, Arial, sans-serif" font-size="27" stroke="#000" stroke-width="0.25" textLength="185.6" lengthAdjust="spacingAndGlyphs">microscopique</text>
</g>
<rect x="426.8" y="213" width="1.6" height="10.5" fill="#1a1a1a"/>
<rect x="561.0" y="213" width="1.6" height="10.5" fill="#1a1a1a"/>
<rect x="695.2" y="213" width="1.6" height="10.5" fill="#1a1a1a"/>
<rect x="829.2" y="213" width="1.6" height="10.5" fill="#1a1a1a"/>
<rect x="963.9" y="213" width="1.6" height="10.5" fill="#1a1a1a"/>
<rect x="1067.5" y="233.1" width="8" height="1.6" fill="#1a1a1a"/>
<rect x="1067.5" y="366.0" width="8" height="1.6" fill="#1a1a1a"/>
<rect x="1067.5" y="499.5" width="8" height="1.6" fill="#1a1a1a"/>
<rect x="1067.5" y="725.2" width="8" height="1.6" fill="#1a1a1a"/>
<rect x="1067.5" y="860.4" width="8" height="1.6" fill="#1a1a1a"/>
<rect x="290" y="207" width="6.8" height="788.9" fill="#000"/>
<rect x="290" y="207" width="791.1" height="6.9" fill="#000"/>
<rect x="1074.9" y="207" width="6.2" height="788.9" fill="#000"/>
<rect x="290" y="991.3" width="791.1" height="4.6" fill="#000"/>
<rect x="290" y="991.3" width="6.6" height="16.6" fill="#000"/>
<rect x="425.3" y="995" width="4.6" height="12.9" fill="#000"/>
<rect x="559.5" y="995" width="4.6" height="12.9" fill="#000"/>
<rect x="693.7" y="995" width="4.6" height="12.9" fill="#000"/>
<rect x="827.7" y="995" width="4.6" height="12.9" fill="#000"/>
<rect x="962.4" y="995" width="4.6" height="12.9" fill="#000"/>
<rect x="276.8" y="318.6" width="14" height="4.6" fill="#000"/>
<rect x="276.8" y="453.6" width="14" height="4.6" fill="#000"/>
<rect x="276.8" y="588.7" width="14" height="4.6" fill="#000"/>
<rect x="276.8" y="724.1" width="14" height="4.6" fill="#000"/>
<rect x="276.8" y="859.0" width="14" height="4.6" fill="#000"/>
<rect x="277" y="991.3" width="14" height="4.6" fill="#000"/>
<text class="n" x="277" y="333.9" text-anchor="end">500</text>
<text class="n" x="277" y="468.9" text-anchor="end">400</text>
<text class="n" x="277" y="604.0" text-anchor="end">300</text>
<text class="n" x="277" y="739.4" text-anchor="end">200</text>
<text class="n" x="277" y="874.3" text-anchor="end">100</text>
<text class="n" x="270.2" y="1007" text-anchor="end">0</text>
<text class="n" x="295.1" y="1044" text-anchor="middle">0</text>
<text class="n" x="471.5" y="1044" text-anchor="end">100</text>
<text class="n" x="605.7" y="1044" text-anchor="end">200</text>
<text class="n" x="739.9" y="1044" text-anchor="end">300</text>
<text class="n" x="873.9" y="1044" text-anchor="end">400</text>
<text class="n" x="1008.6" y="1044" text-anchor="end">500</text>
<text class="l" x="710.5" y="1099" text-anchor="middle" textLength="275.5" lengthAdjust="spacingAndGlyphs">distance / µm</text>
<text class="l" transform="translate(163.2 590.3) rotate(-90)" text-anchor="middle" textLength="275.5" lengthAdjust="spacingAndGlyphs">distance / µm</text>
<text class="l" transform="translate(1137 421) rotate(-90)" text-anchor="middle" textLength="426.5" lengthAdjust="spacingAndGlyphs">absorbance integrée</text>
<text class="l" x="698" y="182.5" text-anchor="middle" textLength="187" lengthAdjust="spacingAndGlyphs">ν (COOK)</text>
<rect x="1153.2" y="212.8" width="75.2" height="38.4" fill="#FAC92A"/>
<rect x="1153.2" y="251.2" width="75.2" height="39.3" fill="#F9E27C"/>
<rect x="1153.2" y="290.5" width="75.2" height="39.1" fill="#EEEC8E"/>
<rect x="1153.2" y="329.6" width="75.2" height="39.2" fill="#C9D734"/>
<rect x="1153.2" y="368.8" width="75.2" height="38.9" fill="#A9C70A"/>
<rect x="1153.2" y="407.7" width="75.2" height="39.0" fill="#BFD336"/>
<rect x="1153.2" y="446.7" width="75.2" height="38.9" fill="#E4EBAC"/>
<rect x="1153.2" y="485.6" width="75.2" height="39.4" fill="#D6ECF0"/>
<rect x="1153.2" y="525.0" width="75.2" height="39.2" fill="#A2D8E6"/>
<rect x="1153.2" y="564.2" width="75.2" height="38.6" fill="#72CAEA"/>
<rect x="1153.2" y="250.1" width="75.2" height="2.2" fill="#111"/>
<rect x="1153.2" y="289.4" width="75.2" height="2.2" fill="#111"/>
<rect x="1153.2" y="328.5" width="75.2" height="2.2" fill="#111"/>
<rect x="1153.2" y="367.7" width="75.2" height="2.2" fill="#111"/>
<rect x="1153.2" y="406.6" width="75.2" height="2.2" fill="#111"/>
<rect x="1153.2" y="445.6" width="75.2" height="2.2" fill="#111"/>
<rect x="1153.2" y="484.5" width="75.2" height="2.2" fill="#111"/>
<rect x="1153.2" y="523.9" width="75.2" height="2.2" fill="#111"/>
<rect x="1153.2" y="563.1" width="75.2" height="2.2" fill="#111"/>
<rect x="1152.4" y="211.6" width="91.6" height="2.4" fill="#111"/>
<rect x="1152.4" y="601.6" width="91.6" height="2.4" fill="#111"/>
<rect x="1152.4" y="211.6" width="1.5" height="392.4" fill="#333"/>
<rect x="1227.2" y="211.6" width="2.5" height="392.4" fill="#000"/>
<rect x="1229" y="308.7" width="15" height="2.4" fill="#111"/>
<rect x="1229" y="406.6" width="15" height="2.4" fill="#111"/>
<rect x="1229" y="504.1" width="15" height="2.4" fill="#111"/>
<text class="n" x="1243.6" y="225.7">2.0</text>
<text class="n" x="1242.3" y="323.8">1.5</text>
<text class="n" x="1242.8" y="422.1">1.0</text>
<text class="n" x="1245.3" y="519.8">0.5</text>
<text class="n" x="1244.0" y="618.9">0.0</text>
<rect x="399.0" y="1039.4" width="9.0" height="5.4" fill="#fff"/>
<rect x="412.0" y="1039.4" width="8.5" height="5.4" fill="#fff"/>
<rect x="204.0" y="869.4" width="9.4" height="5.4" fill="#fff"/>
<rect x="217.6" y="869.4" width="8.9" height="5.4" fill="#fff"/>
<rect x="1244.0" y="319.4" width="9.4" height="5.4" fill="#fff"/>
<rect x="1257.6" y="319.4" width="8.9" height="5.4" fill="#fff"/>
<rect x="1245.0" y="417.4" width="9.0" height="5.4" fill="#fff"/>
<rect x="1258.0" y="417.4" width="9.5" height="5.4" fill="#fff"/>
</svg></body></html>
